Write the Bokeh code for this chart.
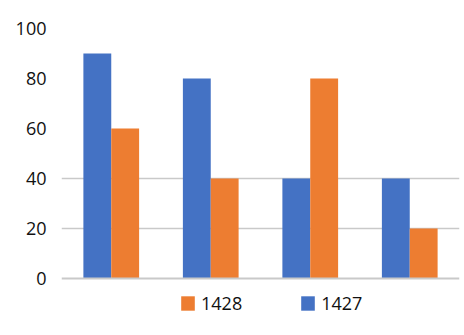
from bokeh.plotting import figure
from bokeh.models import ColumnDataSource, Range1d, FixedTicker, Legend, LegendItem, Span
from bokeh.transform import dodge
from bokeh.embed import file_html
from bokeh.resources import INLINE

categories = ["c1", "c2", "c3", "c4"]
s1427 = [90, 80, 40, 40]
s1428 = [60, 40, 80, 20]
y_ticks = [0, 20, 40, 60, 80, 100]

src = ColumnDataSource(dict(cat=categories, a=s1427, b=s1428))

p = figure(x_range=categories, y_range=Range1d(-22.8, 110), width=464, height=335,
           output_backend="svg", toolbar_location=None,
           min_border_left=61, min_border_right=5, min_border_top=3, min_border_bottom=0)
p.outline_line_color = None
p.background_fill_color = "white"
p.border_fill_color = "white"

r_blue = p.vbar(x=dodge("cat", -0.14, range=p.x_range), top="a", width=0.28, source=src,
                fill_color="#4472C4", line_color=None)
r_orange = p.vbar(x=dodge("cat", 0.14, range=p.x_range), top="b", width=0.28, source=src,
                  fill_color="#ED7D31", line_color=None)

p.xgrid.grid_line_color = None
p.ygrid.ticker = FixedTicker(ticks=[20, 40])
p.ygrid.grid_line_color = "#c9c9c9"
p.ygrid.grid_line_width = 1.5
p.ygrid.level = "underlay"

baseline = Span(location=0, dimension="width", line_color="#c9c9c9", line_width=2)
p.add_layout(baseline)

p.yaxis.ticker = FixedTicker(ticks=y_ticks)
p.yaxis.axis_line_color = None
p.yaxis.major_tick_line_color = None
p.yaxis.minor_tick_line_color = None
p.yaxis.major_label_standoff = 9
p.yaxis.major_label_text_font = "Open Sans"
p.yaxis.major_label_text_font_size = "18px"
p.yaxis.major_label_text_color = "#111111"

p.xaxis.visible = False

legend = Legend(items=[LegendItem(label="1428", renderers=[r_orange]),
                       LegendItem(label="1427", renderers=[r_blue])],
                orientation="horizontal", location=(118, 20),
                padding=0, margin=0, spacing=57, glyph_width=17, glyph_height=18,
                label_standoff=5, label_height=18,
                label_text_font="Open Sans", label_text_font_size="18px",
                label_text_color="#111111",
                border_line_color=None, background_fill_alpha=0)
p.add_layout(legend, "center")

open("out.html", "w").write(file_html(p, INLINE))
